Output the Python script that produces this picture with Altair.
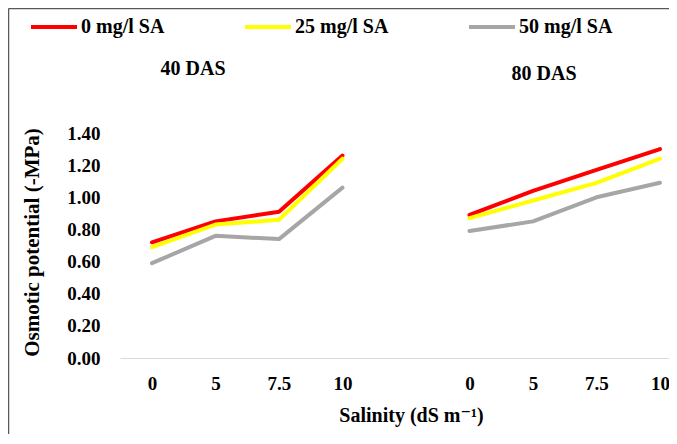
import altair as alt
import pandas as pd

salinity = ["0", "5", "7.5", "10"]
stages = ["40 DAS", "80 DAS"]
series = ["0 mg/l SA", "25 mg/l SA", "50 mg/l SA"]
colors = ["#FF0000", "#FFFF00", "#A6A6A6"]

sa0_40 = [0.72, 0.85, 0.91, 1.26]
sa25_40 = [0.69, 0.83, 0.86, 1.24]
sa50_40 = [0.59, 0.76, 0.74, 1.06]
sa0_80 = [0.89, 1.04, 1.17, 1.30]
sa25_80 = [0.87, 0.98, 1.09, 1.24]
sa50_80 = [0.79, 0.85, 1.00, 1.09]

y_ticks = [0.0, 0.2, 0.4, 0.6, 0.8, 1.0, 1.2, 1.4]

vals = {
    ("40 DAS", "0 mg/l SA"): sa0_40,
    ("40 DAS", "25 mg/l SA"): sa25_40,
    ("40 DAS", "50 mg/l SA"): sa50_40,
    ("80 DAS", "0 mg/l SA"): sa0_80,
    ("80 DAS", "25 mg/l SA"): sa25_80,
    ("80 DAS", "50 mg/l SA"): sa50_80,
}

rows = []
for si, st in enumerate(stages):
    for s in series:
        for i, sal in enumerate(salinity):
            rows.append({"pos": si * (len(salinity) + 1) + i, "stage": st,
                         "series": s, "value": vals[(st, s)][i]})
df = pd.DataFrame(rows)

pos_labels = salinity + [""] + salinity
label_expr = "[" + ",".join("'%s'" % l for l in pos_labels) + "][datum.value]"
tick_pos = [i for i, l in enumerate(pos_labels) if l != ""]

FONT = "'Liberation Serif', 'Times New Roman', Tinos, 'DejaVu Serif', serif"

lines = alt.Chart(df).mark_line(strokeWidth=4, strokeCap="round", strokeJoin="round").encode(
    x=alt.X("pos:Q",
            scale=alt.Scale(domain=[-0.504, 8.142], nice=False, zero=False),
            axis=alt.Axis(values=tick_pos, labelExpr=label_expr, grid=False, ticks=False,
                          domainColor="#D9D9D9", domainWidth=1,
                          labelFont=FONT, labelFontSize=19, labelFontWeight="bold",
                          labelColor="black", labelPadding=16,
                          title="Salinity (dS m\u207b\u00b9)", titleFont=FONT, titleFontSize=20,
                          titleFontWeight="bold", titleColor="black",
                          titleX=291, titleY=57, titleBaseline="middle", titleAnchor="start",
                          titleAlign="center")),
    y=alt.Y("value:Q",
            scale=alt.Scale(domain=[0, 1.4], nice=False),
            axis=alt.Axis(values=y_ticks, format=".2f", grid=False, ticks=False, domain=False,
                          labelFont=FONT, labelFontSize=19, labelFontWeight="bold",
                          labelColor="black", labelPadding=20,
                          title="Osmotic potential (-MPa)", titleFont=FONT, titleFontSize=21,
                          titleFontWeight="bold", titleColor="black",
                          titleX=-88, titleY=109, titleAngle=-90, titleAlign="center",
                          titleBaseline="middle")),
    color=alt.Color("series:N", sort=series,
                    scale=alt.Scale(domain=series, range=colors),
                    legend=alt.Legend(orient="none", legendX=-91, legendY=-131,
                                      direction="horizontal", title=None,
                                      symbolType="stroke", symbolSize=2116,
                                      symbolStrokeWidth=4, labelFont=FONT,
                                      labelFontSize=20, labelFontWeight="bold",
                                      labelColor="black", columnPadding=72,
                                      labelOffset=2, padding=0)),
    detail="stage:N",
)

one = pd.DataFrame({"k": [0]})
top_border = alt.Chart(one).mark_rule(color="#595959", strokeWidth=1.5).encode(
    x=alt.value(-111.5), x2=alt.value(549), y=alt.value(-124.5))
left_border = alt.Chart(one).mark_rule(color="#595959", strokeWidth=1.5).encode(
    x=alt.value(-111.5), y=alt.value(-124.5), y2=alt.value(301))

lab40 = alt.Chart(one).mark_text(font=FONT, fontSize=20, fontWeight="bold", color="black",
                                 baseline="middle", align="center").encode(
    x=alt.value(73), y=alt.value(-64), text=alt.value(stages[0]))
lab80 = alt.Chart(one).mark_text(font=FONT, fontSize=20, fontWeight="bold", color="black",
                                 baseline="middle", align="center").encode(
    x=alt.value(424), y=alt.value(-59), text=alt.value(stages[1]))

chart = alt.layer(top_border, left_border, lines, lab40, lab80).properties(
    width=549, height=225,
    autosize=alt.AutoSizeParams(type="none"),
    padding={"left": 112, "top": 125, "right": 0, "bottom": 76},
    background="white",
).configure_view(stroke=None)

chart.save("out.html", embed_options={"renderer": "svg", "actions": False})
